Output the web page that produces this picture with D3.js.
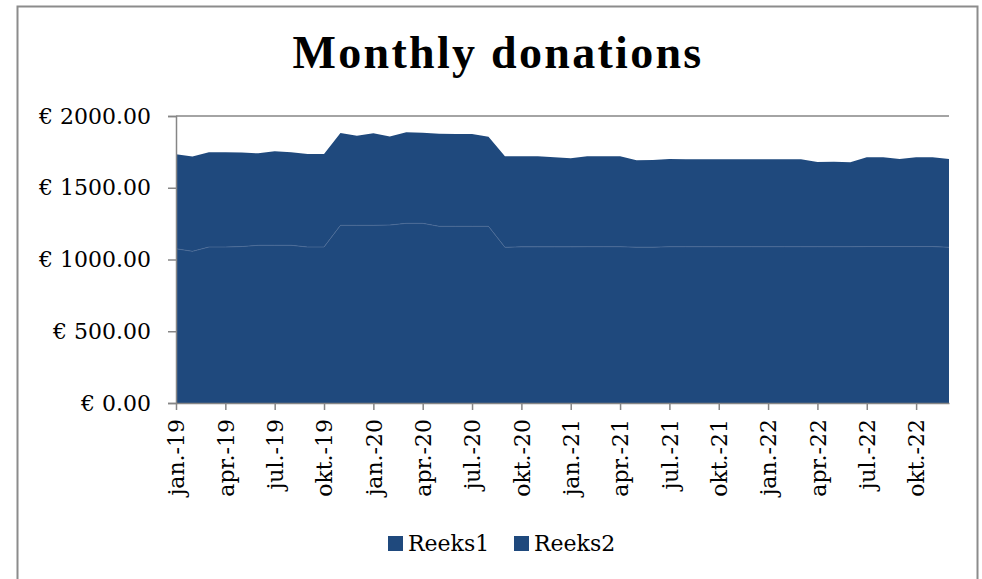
<!DOCTYPE html>
<meta charset="utf-8">
<style>
body { margin: 0; background: #fff; }
text { font-family: "DejaVu Serif", serif; fill: #000; }
</style>
<body>
<script src="https://d3js.org/d3.v7.min.js"></script>
<script>

// month labels (Dutch), jan 2019 .. dec 2022
var monthNames = ["jan.", "feb.", "mrt.", "apr.", "mei", "jun.", "jul.", "aug.", "sep.", "okt.", "nov.", "dec."];
var years = ["19", "20", "21", "22"];
var months = [];
years.forEach(function(y) {
  monthNames.forEach(function(m) { months.push(m + "-" + y); });
});

// series values
var reeks1 = [1075, 1057, 1087, 1087, 1090, 1099, 1099, 1099, 1087, 1087, 1238, 1238,
              1238, 1240, 1252, 1252, 1231, 1231, 1231, 1231, 1085, 1088, 1088, 1088,
              1088, 1089, 1089, 1089, 1086, 1086, 1089, 1089, 1089, 1089, 1089, 1089,
              1089, 1089, 1089, 1089, 1089, 1089, 1090, 1090, 1090, 1090, 1090, 1085];
var reeks2 = [658, 660, 660, 660, 655, 641, 655, 648, 648, 648, 644, 625,
              641, 618, 634, 631, 646, 644, 643, 625, 634, 631, 631, 624,
              617, 630, 630, 630, 605, 607, 611, 609, 609, 609, 609, 609,
              609, 609, 609, 590, 593, 588, 622, 622, 610, 622, 622, 615];

var yTicks = [0, 500, 1000, 1500, 2000];
var seriesNames = ["Reeks1", "Reeks2"];
var color = "#1F497D";

var W = 982, H = 579;
var plot = {left: 176, right: 949, top: 116, bottom: 403};

var svg = d3.select("body").append("svg")
    .attr("width", W)
    .attr("height", H);

// chart frame
svg.append("rect")
    .attr("x", 17.5).attr("y", 6.5)
    .attr("width", 960).attr("height", 590)
    .attr("fill", "none")
    .attr("stroke", "#8c8c8c")
    .attr("stroke-width", 2);

// title
svg.append("text")
    .attr("x", 498).attr("y", 68)
    .attr("text-anchor", "middle")
    .style("font-family", "'Liberation Serif', serif")
    .style("font-size", "46px")
    .style("font-weight", "bold")
    .style("letter-spacing", "2.3px")
    .text("Monthly donations");

var x = d3.scalePoint()
    .domain(months)
    .range([plot.left, plot.right]);
var y = d3.scaleLinear()
    .domain([0, 2000])
    .range([plot.bottom, plot.top]);

// gridlines (only the top one shows above the areas)
svg.append("g").selectAll("line")
    .data(yTicks)
  .enter().append("line")
    .attr("x1", plot.left).attr("x2", plot.right)
    .attr("y1", function(d) { return y(d); })
    .attr("y2", function(d) { return y(d); })
    .attr("stroke", "#868686")
    .attr("stroke-width", 1.5);

// stacked areas
var table = months.map(function(m, i) {
  return {month: m, Reeks1: reeks1[i], Reeks2: reeks2[i]};
});
var stacked = d3.stack().keys(seriesNames)(table);

var area = d3.area()
    .x(function(d) { return x(d.data.month); })
    .y0(function(d) { return y(d[0]); })
    .y1(function(d) { return y(d[1]); });

svg.append("g").selectAll("path")
    .data(stacked)
  .enter().append("path")
    .attr("d", area)
    .attr("fill", color);

// faint seam between the two series
svg.append("path")
    .datum(stacked[0])
    .attr("d", d3.line()
      .x(function(d) { return x(d.data.month); })
      .y(function(d) { return y(d[1]); }))
    .attr("fill", "none")
    .attr("stroke", "#4a6a96")
    .attr("stroke-width", 0.8);

// y axis
var yAxis = svg.append("g")
    .attr("transform", "translate(" + plot.left + ",0)")
    .call(d3.axisLeft(y).tickValues(yTicks).tickSize(8).tickPadding(17)
      .tickFormat(function(d) { return "€ " + d3.format(".2f")(d); }));
yAxis.selectAll("text").style("font-size", "22px").attr("font-family", null);

// x axis
var xAxis = svg.append("g")
    .attr("transform", "translate(0," + plot.bottom + ")")
    .call(d3.axisBottom(x)
      .tickValues(months.filter(function(d, i) { return i % 3 === 0; }))
      .tickSize(7).tickSizeOuter(0));
xAxis.selectAll("text")
    .style("font-size", "22px")
    .attr("font-family", null)
    .style("text-anchor", "end")
    .attr("transform", "rotate(-90)")
    .attr("x", -16)
    .attr("y", 0)
    .attr("dy", "0.35em");

svg.selectAll(".domain, .tick line")
    .attr("stroke", "#868686")
    .attr("stroke-width", 1.5);

// legend
var legend = svg.append("g").selectAll("g")
    .data(seriesNames)
  .enter().append("g")
    .attr("transform", function(d, i) { return "translate(" + (388 + i * 126) + ",536)"; });
legend.append("rect")
    .attr("width", 15).attr("height", 15)
    .attr("fill", color);
legend.append("text")
    .attr("x", 20).attr("y", 15)
    .style("font-size", "22px")
    .text(function(d) { return d; });

</script>
</body>
